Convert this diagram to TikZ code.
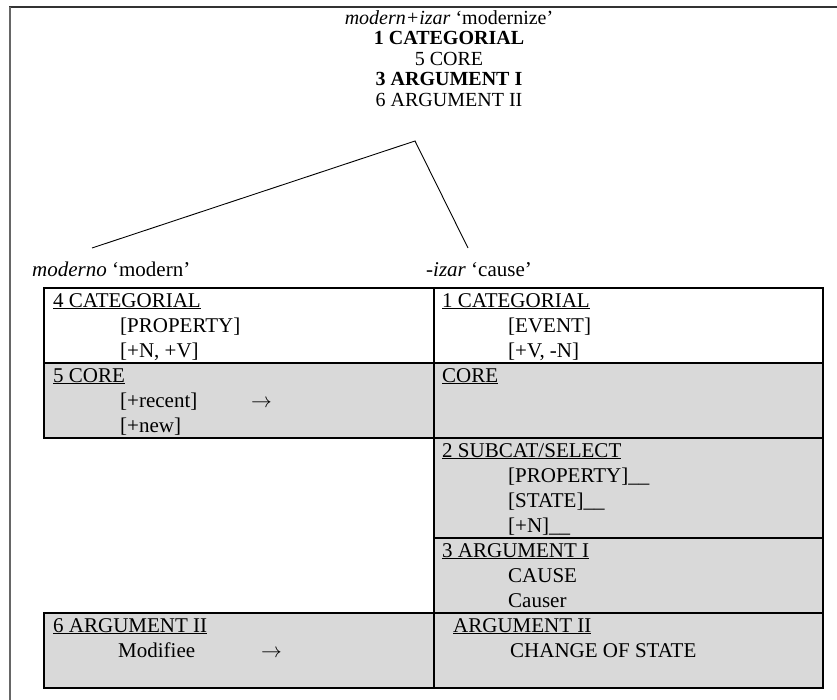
\documentclass[tikz,border=0pt]{standalone}
\usepackage{fontspec}
\setmainfont{Liberation Serif}
\definecolor{cellgray}{RGB}{217,217,217}
\tikzset{
  cellbox/.style={draw=black,line width=1.8pt},
  txt/.style={anchor=base west,inner sep=0pt,font=\fontsize{21}{25}\selectfont},
  head/.style={anchor=north,inner sep=0pt,align=center,font=\fontsize{20}{20.5}\selectfont},
}
\begin{document}
\begin{tikzpicture}[x=1pt,y=-1pt]
  \useasboundingbox (0,0) rectangle (837,700);
  % frame
  \draw[line width=2pt,black!80] (9,7) -- (837,7);
  \draw[line width=2pt,black!60] (10,7) -- (10,700);
  % whole word
  \node[head] (whole) at (449,10) {\textit{modern+izar} `modernize'\\
    \textbf{1 CATEGORIAL}\\ 5 CORE\\ \textbf{3 ARGUMENT I}\\ 6 ARGUMENT II};
  \path (415,141) coordinate (apex)
    (92,248) coordinate (leftleg)
    (468,248) coordinate (rightleg);
  \draw[line width=0.9pt] (leftleg) -- (apex) -- (rightleg);
  \node[txt] (moderno) at (32,277) {\textit{moderno} `modern'};
  \node[txt] (izar) at (426,277) {-\textit{izar} `cause'};
  % cells
  \foreach \xa/\ya/\xb/\yb/\f in {44/288/434/363/white,44/363/434/438/cellgray,44/613/434/688/cellgray,
    434/288/823/363/white,434/363/823/438/cellgray,434/438/823/538/cellgray,
    434/538/823/613/cellgray,434/613/823/688/cellgray}
    \draw[cellbox,fill=\f] (\xa,\ya) rectangle (\xb,\yb);
  % left column
  \foreach \x/\y/\t [count=\k] in {53/307/{\underline{4 CATEGORIAL}},120/332/{[PROPERTY]},
    120/357/{[+N, +V]},53/382/{\underline{5 CORE}},120/407/{[+recent]},120/432/{[+new]},
    53/632/{\underline{6 ARGUMENT II}},118/657/{Modifiee}}
    \node[txt] (l\k) at (\x,\y) {\t};
  % right column
  \foreach \x/\y/\t [count=\k] in {442/307/{\underline{1 CATEGORIAL}},508/332/{[EVENT]},
    508/357/{[+V, -N]},442/382/{\underline{CORE}},442/457/{\underline{2 SUBCAT/SELECT}},
    508/482/{[PROPERTY]\_\_},508/507/{[STATE]\_\_},508/532/{[+N]\_\_},
    442/557/{\underline{3 ARGUMENT I}},508/582/{CAUSE},508/607/{Causer},
    453/632/{\underline{ARGUMENT II}},510/657/{CHANGE OF STATE}}
    \node[txt] (r\k) at (\x,\y) {\t};
  % arrows
  \node[txt] (arrowcore) at (251,407) {$\rightarrow$};
  \node[txt] (arrowarg) at (261,657) {$\rightarrow$};
\end{tikzpicture}
\end{document}
